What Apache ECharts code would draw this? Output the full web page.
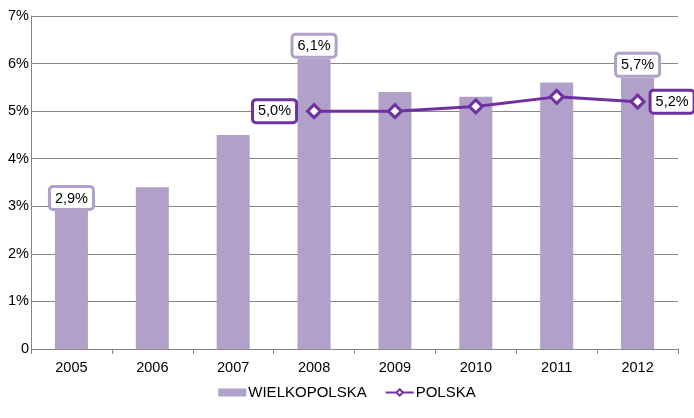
<!DOCTYPE html>
<html><head><meta charset="utf-8">
<script src="https://cdn.jsdelivr.net/npm/echarts@6/dist/echarts.min.js"></script>
<style>html,body{margin:0;padding:0;background:#fff}#c{width:694px;height:418px}</style>
</head><body><div id="c"></div>
<script>
const categories = ['2005','2006','2007','2008','2009','2010','2011','2012'];
const wielkopolska = [2.9, 3.4, 4.5, 6.1, 5.4, 5.3, 5.6, 5.7];
const polska = [null, null, null, 5.0, 5.0, 5.1, 5.3, 5.2];
const yTicks = [0, 1, 2, 3, 4, 5, 6, 7];
const barLabelIdx = [0, 3, 7];
const lineLabelIdx = {3: 'left', 7: 'right'};

const fmt = v => v.toFixed(1).replace('.', ',') + '%';
const FONT = 'Liberation Sans, Arial, sans-serif';
const FS = 14.5;

const barData = wielkopolska.map((v, i) => barLabelIdx.includes(i) ? {
  value: v,
  label: {show: true, position: 'top', distance: 3, formatter: p => fmt(p.value),
    backgroundColor: '#fff', borderColor: '#B1A0C7', borderWidth: 3, borderRadius: 2,
    padding: [3, 4, 2, 4], color: '#000', fontSize: FS, fontFamily: FONT}
} : v);
const lineData = polska.map((v, i) => lineLabelIdx[i] ? {
  value: v,
  label: {show: true, position: lineLabelIdx[i], distance: lineLabelIdx[i] === 'left' ? 11 : 6,
    formatter: p => fmt(p.value),
    backgroundColor: '#fff', borderColor: '#7030A0', borderWidth: 3, borderRadius: 2,
    padding: [3, 4, 2, 4], color: '#000', fontSize: FS, fontFamily: FONT}
} : v);

const chart = echarts.init(document.getElementById('c'), null, {renderer: 'canvas'});
chart.setOption({
  animation: false,
  textStyle: {fontFamily: FONT},
  grid: {left: 31, right: 16, top: 16, bottom: 69, containLabel: false},
  legend: {
    bottom: 13, left: 'center', itemGap: 18, itemWidth: 28, itemHeight: 8,
    textStyle: {color: '#000', fontSize: 15, fontFamily: FONT, padding: [0,0,0,-3]},
    data: [{name: 'WIELKOPOLSKA', icon: 'rect'}, {name: 'POLSKA'}]
  },
  xAxis: {
    type: 'category', data: categories,
    axisLine: {lineStyle: {color: '#868686'}},
    axisTick: {show: true, alignWithLabel: false, length: 5, lineStyle: {color: '#868686'}},
    axisLabel: {color: '#000', fontSize: FS, fontFamily: FONT, margin: 11}
  },
  yAxis: {
    type: 'value', min: yTicks[0], max: yTicks[yTicks.length - 1], interval: 1,
    axisLine: {show: true, lineStyle: {color: '#868686'}},
    axisTick: {show: false},
    splitLine: {lineStyle: {color: '#868686'}},
    axisLabel: {color: '#000', fontSize: FS, fontFamily: FONT, margin: 2,
      formatter: v => v === 0 ? '0' : v + '%'}
  },
  series: [
    {name: 'WIELKOPOLSKA', type: 'bar', data: barData, barWidth: 33,
      itemStyle: {color: '#B1A0C7'}},
    {name: 'POLSKA', type: 'line', data: lineData, symbol: 'diamond', symbolSize: 13,
      showAllSymbol: true,
      lineStyle: {color: '#7030A0', width: 3},
      itemStyle: {color: '#fff', borderColor: '#7030A0', borderWidth: 3}}
  ]
});
</script></body></html>
